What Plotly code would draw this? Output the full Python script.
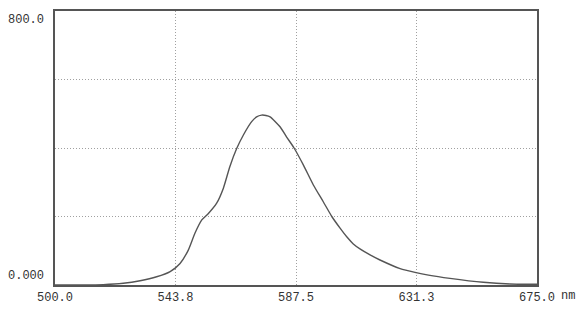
import plotly.graph_objects as go

wavelength_nm = [500, 510, 517.5, 524.8, 530.9, 536.9, 541.8, 545.4, 548.4, 550.8,
                 553.3, 555.7, 558.7, 561.1, 563.5, 566.0, 568.4, 571.4, 573.2, 575.0,
                 576.6, 578.1, 581.7, 584.1, 586.8, 590.2, 593.8, 597.4, 600.5, 603.5,
                 606.0, 608.3, 611.0, 614.4, 618.0, 625.3, 630.7, 635.6, 643.4, 655.5,
                 665.2, 675.0]
intensity = [0, 0, 1, 5, 12.5, 24, 39, 63, 102, 151,
             190, 209, 239, 282, 346, 399, 438, 477, 491, 496,
             495, 491, 462, 432, 400, 350, 292, 243, 200, 166,
             140, 120, 104, 88, 73, 48, 37, 29, 19.5, 8,
             3, 2]

x_tickvals = [500.0, 543.75, 587.5, 631.25, 675.0]
x_ticktext = ["500.0", "543.8", "587.5", "631.3", "675.0"]
y_gridvals = [0, 200, 400, 600, 800]
y_label_top = "800.0"
y_label_bottom = "0.000"
x_unit = "nm"

font = dict(family="Liberation Mono", size=12, color="#333333")

fig = go.Figure()
fig.add_trace(go.Scatter(x=wavelength_nm, y=intensity, mode="lines",
                         line=dict(color="#555555", width=1.4, shape="spline", smoothing=0.6),
                         hoverinfo="skip", showlegend=False))

fig.update_layout(
    width=588, height=309,
    margin=dict(l=55, r=51, t=11, b=24),
    paper_bgcolor="white", plot_bgcolor="white",
    font=font,
    xaxis=dict(range=[500, 675], tickvals=x_tickvals, ticktext=x_ticktext,
               showgrid=True, gridcolor="#a0a0a0", griddash="1px,2px", gridwidth=1,
               showline=True, linecolor="#555555", linewidth=2, mirror=True,
               ticks="", zeroline=False, tickfont=font, ticklabelstandoff=0,
               automargin=False),
    yaxis=dict(range=[0, 800], tickvals=y_gridvals, showticklabels=False,
               showgrid=True, gridcolor="#a0a0a0", griddash="1px,2px", gridwidth=1,
               showline=True, linecolor="#555555", linewidth=2, mirror=True,
               ticks="", zeroline=False, automargin=False),
    annotations=[
        dict(x=0, xref="paper", y=800, yref="y", text=y_label_top, showarrow=False,
             xanchor="right", yanchor="top", xshift=-9, yshift=0, font=font),
        dict(x=0, xref="paper", y=0, yref="y", text=y_label_bottom, showarrow=False,
             xanchor="right", yanchor="bottom", xshift=-9, yshift=0, font=font),
        dict(x=675, xref="x", y=0, yref="paper", text=x_unit, showarrow=False,
             xanchor="left", yanchor="top", xshift=22, yshift=-2, font=font),
    ],
)

fig.write_html("out.html")
